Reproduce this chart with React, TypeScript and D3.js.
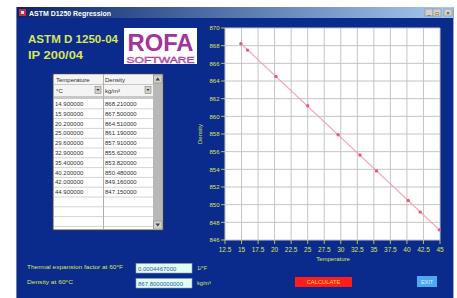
import React from "react";
import * as d3 from "d3";

const temperatures = [14.9, 15.9, 20.2, 25.0, 29.6, 32.9, 35.4, 40.2, 42.0, 44.9];
const densities = [868.21, 867.5, 864.51, 861.19, 857.91, 855.62, 853.82, 850.48, 849.16, 847.15];
const xTicks = [12.5, 15, 17.5, 20, 22.5, 25, 27.5, 30, 32.5, 35, 37.5, 40, 42.5, 45];
const yTicks = [846, 848, 850, 852, 854, 856, 858, 860, 862, 864, 866, 868, 870];
const emptyRows = 3;

const BLUE = "#0b2b8c";
const YG = "#d6e65a";
const SFONT = "'Liberation Sans', Arial, sans-serif";

export default function App() {
  const x = d3.scaleLinear().domain([12.5, 45]).range([225, 440]);
  const y = d3.scaleLinear().domain([846, 870]).range([240, 28]);

  // least squares regression from data
  const mx = d3.mean(temperatures) as number;
  const my = d3.mean(densities) as number;
  const sxy = d3.sum(temperatures.map((t, i) => (t - mx) * (densities[i] - my)));
  const sxx = d3.sum(temperatures.map((t) => (t - mx) * (t - mx)));
  const slope = sxy / sxx;
  const icpt = my - slope * mx;
  const fitX = [d3.min(temperatures) as number, 45];
  const line = d3
    .line<number>()
    .x((t) => x(t))
    .y((t) => y(icpt + slope * t));

  const rowTop = 99;
  const rowH = 9.8;
  const nRows = temperatures.length + emptyRows;

  return (
    <svg
      width={457}
      height={298}
      style={{ position: "fixed", left: 0, top: 0 }}
      xmlns="http://www.w3.org/2000/svg"
    >
      <rect x={0} y={0} width={457} height={298} fill="#ffffff" />
      {/* window body */}
      <rect x={16} y={7} width={438} height={291} fill={BLUE} />
      <line x1={453.5} y1={7} x2={453.5} y2={298} stroke="#9aa8c8" />
      <line x1={16.5} y1={7} x2={16.5} y2={298} stroke="#7080a8" />
      {/* title bar */}
      <defs>
        <linearGradient id="tb" x1="0" x2="1" y1="0" y2="0">
          <stop offset="0" stopColor="#0a246a" />
          <stop offset="1" stopColor="#a6caf0" />
        </linearGradient>
      </defs>
      <rect x={17} y={7} width={436} height={11} fill="url(#tb)" />
      <rect x={19} y={9} width={7} height={7} fill="#c03040" />
      <rect x={21} y={11} width={3} height={3} fill="#e0e0f0" />
      <text x={29} y={15.5} fontFamily={SFONT} fontWeight="bold" fontSize={6.5} fill="#ffffff" textLength={82} lengthAdjust="spacingAndGlyphs">
        ASTM D1250 Regression
      </text>
      {[425, 433, 444].map((bx, i) => (
        <g key={i}>
          <rect x={bx} y={9} width={8} height={7} fill="#d4d0c8" stroke="#808080" strokeWidth={0.5} />
          <text x={bx + 4} y={14.5} fontSize={5} textAnchor="middle" fontFamily={SFONT} fill="#000">
            {["_", "□", "×"][i]}
          </text>
        </g>
      ))}

      {/* heading */}
      <text x={28} y={43} fontFamily={SFONT} fontWeight="bold" fontSize={11.5} fill={YG} textLength={90} lengthAdjust="spacingAndGlyphs">
        ASTM D 1250-04
      </text>
      <text x={28} y={59} fontFamily={SFONT} fontWeight="bold" fontSize={11.5} fill={YG} textLength={55} lengthAdjust="spacingAndGlyphs">
        IP 200/04
      </text>

      {/* logo */}
      <rect x={124} y={28} width={73} height={36} fill="#ffffff" />
      <text x={160.5} y={50.5} textAnchor="middle" fontFamily={SFONT} fontWeight="bold" fontSize={23} fill="#a2349c" textLength={66} lengthAdjust="spacingAndGlyphs">
        ROFA
      </text>
      <text x={160.5} y={63.3} textAnchor="middle" fontFamily={SFONT} fontSize={8.5} fill="#e3b9e0" stroke="#a2349c" strokeWidth={0.45} textLength={68} lengthAdjust="spacingAndGlyphs">
        SOFTWARE
      </text>

      {/* table */}
      <rect x={53} y={74} width={110} height={156} fill="#ffffff" stroke="#404040" strokeWidth={1} />
      <rect x={54} y={74.5} width={99} height={22} fill="#f4f4f4" />
      <line x1={54} x2={153} y1={84.5} y2={84.5} stroke="#c8c8c8" />
      <rect x={54} y={96} width={99} height={3} fill="#c8c8c8" />
      <text x={56} y={82} fontFamily={SFONT} fontSize={6} fill="#303030">Temperature</text>
      <text x={105} y={82} fontFamily={SFONT} fontSize={6} fill="#303030">Density</text>
      <text x={56} y={93} fontFamily={SFONT} fontSize={6} fill="#303030">°C</text>
      <text x={105} y={93} fontFamily={SFONT} fontSize={6} fill="#303030">kg/m³</text>
      {[95, 145].map((bx) => (
        <g key={bx}>
          <rect x={bx} y={86.5} width={6} height={7} fill="#d4d0c8" stroke="#707070" strokeWidth={0.5} />
          <path d={`M${bx + 1.5},${89} L${bx + 4.5},${89} L${bx + 3},${91} Z`} fill="#303030" />
        </g>
      ))}
      {d3.range(nRows).map((i) => (
        <line key={i} x1={54} x2={153} y1={rowTop + (i + 1) * rowH} y2={rowTop + (i + 1) * rowH} stroke="#c8c8c8" strokeWidth={0.8} />
      ))}
      <line x1={103.5} x2={103.5} y1={74} y2={229} stroke="#b0b0b0" />
      {temperatures.map((t, i) => (
        <g key={i}>
          <text x={55} y={rowTop + i * rowH + 7} fontFamily={SFONT} fontSize={6} fill="#303030">{t.toFixed(6)}</text>
          <text x={105} y={rowTop + i * rowH + 7} fontFamily={SFONT} fontSize={6} fill="#303030">{densities[i].toFixed(6)}</text>
        </g>
      ))}
      <rect x={153} y={74.5} width={9.5} height={155} fill="#b8b8b8" />
      <rect x={153.5} y={75} width={8.5} height={8} fill="#d4d0c8" stroke="#808080" strokeWidth={0.5} />
      <rect x={153.5} y={221} width={8.5} height={8} fill="#d4d0c8" stroke="#808080" strokeWidth={0.5} />
      <path d="M155.5,80.5 L160,80.5 L157.75,77.5 Z" fill="#404040" />
      <path d="M155.5,223.5 L160,223.5 L157.75,226.5 Z" fill="#404040" />

      {/* chart */}
      <rect x={225} y={28} width={215} height={212} fill="#ffffff" />
      {xTicks.map((t) => (
        <line key={"gx" + t} x1={x(t)} x2={x(t)} y1={28} y2={240} stroke="#c4c4c4" strokeWidth={1} />
      ))}
      {yTicks.map((t) => (
        <line key={"gy" + t} x1={225} x2={440} y1={y(t)} y2={y(t)} stroke="#c4c4c4" strokeWidth={1} />
      ))}
      <path d={line(fitX) as string} fill="none" stroke="#f2a3b3" strokeWidth={1.3} />
      {temperatures.map((t, i) => (
        <circle key={"p" + i} cx={x(t)} cy={y(densities[i])} r={1.7} fill="#e45a78" />
      ))}
      {yTicks.map((t) => (
        <g key={"yt" + t}>
          <line x1={221} x2={225} y1={y(t)} y2={y(t)} stroke={YG} strokeWidth={0.8} />
          <text x={219.5} y={y(t) + 2.2} textAnchor="end" fontFamily={SFONT} fontSize={6} fill={YG}>{t}</text>
        </g>
      ))}
      {xTicks.map((t) => (
        <g key={"xt" + t}>
          <line x1={x(t)} x2={x(t)} y1={240} y2={244} stroke={YG} strokeWidth={0.8} />
          <text x={x(t)} y={252} textAnchor="middle" fontFamily={SFONT} fontSize={6.5} fill={YG}>{t}</text>
        </g>
      ))}
      <text x={333} y={261} textAnchor="middle" fontFamily={SFONT} fontSize={6} fill={YG}>Temperature</text>
      <text transform={`translate(202,134) rotate(-90)`} textAnchor="middle" fontFamily={SFONT} fontSize={6} fill={YG}>Density</text>

      {/* bottom controls */}
      <text x={27} y={269} fontFamily={SFONT} fontSize={6} fill={YG} textLength={96} lengthAdjust="spacingAndGlyphs">Thermal expansion factor at 60°F</text>
      <text x={27} y={284} fontFamily={SFONT} fontSize={6} fill={YG} textLength={46} lengthAdjust="spacingAndGlyphs">Density at 60°C</text>
      <rect x={136} y={263.5} width={56} height={9.5} fill="#e2fcf4" stroke="#8fa0b0" strokeWidth={0.6} />
      <rect x={136} y={278.5} width={56} height={9.5} fill="#e2fcf4" stroke="#8fa0b0" strokeWidth={0.6} />
      <text x={138} y={270.5} fontFamily={SFONT} fontSize={6} fill="#3060a0">0.0004467000</text>
      <text x={138} y={285.5} fontFamily={SFONT} fontSize={6} fill="#3060a0">867.8000000000</text>
      <text x={197} y={270} fontFamily={SFONT} fontSize={5.5} fill={YG}>1/°F</text>
      <text x={197} y={285} fontFamily={SFONT} fontSize={5.5} fill={YG}>kg/m³</text>
      <rect x={295} y={277} width={57} height={10} fill="#ff1c1c" />
      <text x={323.5} y={284.2} textAnchor="middle" fontFamily={SFONT} fontSize={5.8} fill="#ffd84a">CALCULATE</text>
      <rect x={417} y={276} width={20} height={11} fill="#4ca8f0" />
      <text x={427} y={283.7} textAnchor="middle" fontFamily={SFONT} fontSize={5.5} fill="#d8ecff">EXIT</text>
    </svg>
  );
}
